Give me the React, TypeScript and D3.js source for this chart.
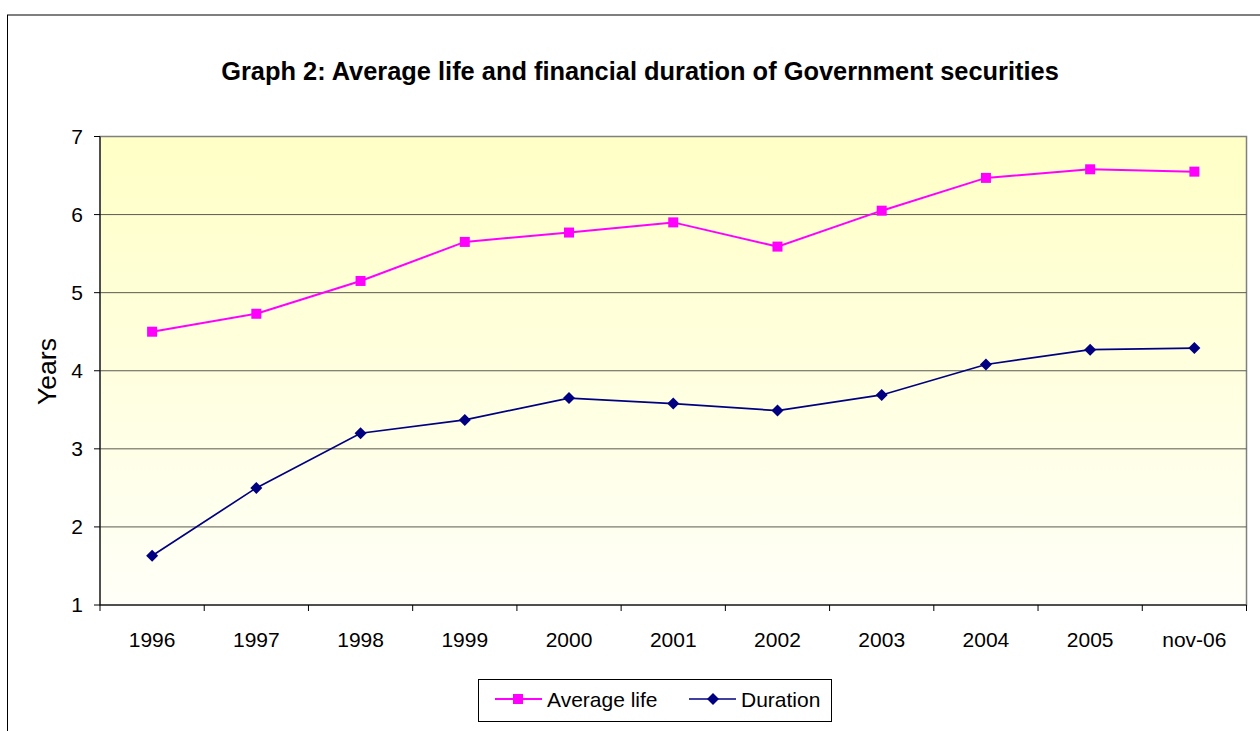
import React from "react";
import * as d3 from "d3";

const categories = ["1996", "1997", "1998", "1999", "2000", "2001", "2002", "2003", "2004", "2005", "nov-06"];
const averageLife = [4.5, 4.73, 5.15, 5.65, 5.77, 5.9, 5.59, 6.05, 6.47, 6.58, 6.55];
const duration = [1.63, 2.5, 3.2, 3.37, 3.65, 3.58, 3.49, 3.69, 4.08, 4.27, 4.29];
const yTicks = [1, 2, 3, 4, 5, 6, 7];

const W = 1260, H = 731;
const L = 100, R = 1246.5, T = 136.5, B = 605;
const FONT = "Arial, 'Liberation Sans', sans-serif";

export default function App() {
  const x = d3.scaleBand<string>().domain(categories).range([L, R]);
  const y = d3.scaleLinear().domain([1, 7]).range([B, T]);
  const cx = (c: string) => (x(c) as number) + x.bandwidth() / 2;
  const line = d3.line<number>().x((_, i) => cx(categories[i])).y((d) => y(d));
  const bounds = [...categories.map((c) => x(c) as number), R];
  const pink = "#FF00FF";
  const navy = "#000080";
  const diamond = (px: number, py: number, s: number) =>
    `M${px},${py - s}L${px + s},${py}L${px},${py + s}L${px - s},${py}Z`;

  return (
    <svg width={W} height={H} style={{ position: "absolute", left: 0, top: 0 }}>
      <defs>
        <linearGradient id="bg" x1="0" y1="0" x2="0" y2="1">
          <stop offset="0%" stopColor="#FFFFC6" />
          <stop offset="100%" stopColor="#FFFFF8" />
        </linearGradient>
      </defs>
      <rect x={0} y={0} width={W} height={H} fill="#fff" />
      <rect x={7.5} y={15} width={1300} height={800} fill="#fff" stroke="#000" strokeWidth={1} />
      <text x={640} y={80} textAnchor="middle" fontFamily={FONT} fontSize={25.4} fontWeight="bold">
        Graph 2: Average life and financial duration of Government securities
      </text>
      <rect x={L} y={T} width={R - L} height={B - T} fill="url(#bg)" stroke="#808080" strokeWidth={1.5} />
      {yTicks.slice(1, -1).map((t) => (
        <line key={t} x1={L} x2={R} y1={y(t)} y2={y(t)} stroke="#5a5a50" strokeWidth={1} />
      ))}
      {/* axes */}
      <line x1={L} x2={L} y1={T} y2={B} stroke="#000" strokeWidth={1} />
      <line x1={L} x2={R} y1={B} y2={B} stroke="#000" strokeWidth={1} />
      {yTicks.map((t) => (
        <g key={t}>
          <line x1={L - 6} x2={L} y1={y(t)} y2={y(t)} stroke="#000" />
          <text x={83} y={y(t) + 7} textAnchor="end" fontFamily={FONT} fontSize={21}>{t}</text>
        </g>
      ))}
      {bounds.map((b, i) => (
        <line key={i} x1={b} x2={b} y1={B} y2={B + 6} stroke="#000" />
      ))}
      {categories.map((c) => (
        <text key={c} x={cx(c)} y={646.5} textAnchor="middle" fontFamily={FONT} fontSize={21}>{c}</text>
      ))}
      <text transform={`translate(55.5,371.5) rotate(-90)`} textAnchor="middle" fontFamily={FONT} fontSize={26.5}>Years</text>
      {/* series */}
      <path d={line(averageLife) || ""} fill="none" stroke={pink} strokeWidth={2} />
      {averageLife.map((v, i) => (
        <rect key={i} x={cx(categories[i]) - 5} y={y(v) - 5} width={10} height={10} fill={pink} />
      ))}
      <path d={line(duration) || ""} fill="none" stroke={navy} strokeWidth={1.7} />
      {duration.map((v, i) => (
        <path key={i} d={diamond(cx(categories[i]), y(v), 6)} fill={navy} />
      ))}
      {/* legend */}
      <rect x={478.5} y={679.5} width={353} height={42} fill="#fff" stroke="#000" strokeWidth={1} />
      <line x1={495} x2={542} y1={699} y2={699} stroke={pink} strokeWidth={2} />
      <rect x={513} y={694} width={10} height={10} fill={pink} />
      <text x={547} y={706.5} fontFamily={FONT} fontSize={21}>Average life</text>
      <line x1={689} x2={736} y1={699} y2={699} stroke={navy} strokeWidth={1.7} />
      <path d={diamond(713, 699, 6)} fill={navy} />
      <text x={741} y={706.5} fontFamily={FONT} fontSize={21}>Duration</text>
    </svg>
  );
}
